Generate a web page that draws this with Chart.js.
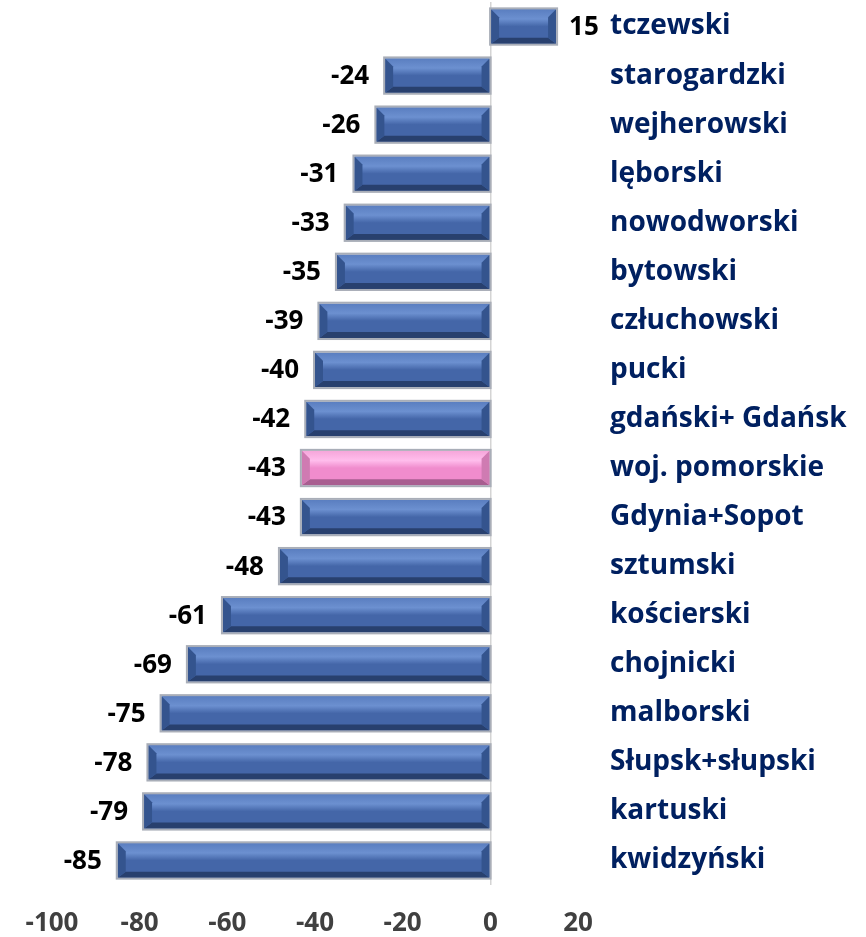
<!DOCTYPE html>
<html>
<head>
<meta charset="utf-8">
<script src="https://cdn.jsdelivr.net/npm/chart.js@4"></script>
<style>
  html, body { margin: 0; padding: 0; background: #fff; }
  #wrap { width: 866px; height: 937px; }
</style>
</head>
<body>
<div id="wrap"><canvas id="bars"></canvas></div>
<script>
var regions = [
    'tczewski',
    'starogardzki',
    'wejherowski',
    'lęborski',
    'nowodworski',
    'bytowski',
    'człuchowski',
    'pucki',
    'gdański+ Gdańsk',
    'woj. pomorskie',
    'Gdynia+Sopot',
    'sztumski',
    'kościerski',
    'chojnicki',
    'malborski',
    'Słupsk+słupski',
    'kartuski',
    'kwidzyński',
];
var values = [15, -24, -26, -31, -33, -35, -39, -40, -42, -43, -43, -48, -61, -69, -75, -78, -79, -85];
var highlighted = 'woj. pomorskie';
var xTicks = [-100, -80, -60, -40, -20, 0, 20];

var FONT = '"Open Sans", Lato, sans-serif';

// bevelled "3D" look drawn on top of each bar
var bevel = {
    id: 'bevel',
    afterDatasetsDraw: function (chart) {
        var ctx = chart.ctx;
        var meta = chart.getDatasetMeta(0);
        meta.data.forEach(function (el, i) {
            var p = el.getProps(['x', 'y', 'base', 'height'], true);
            var l = Math.min(p.x, p.base), r = Math.max(p.x, p.base);
            var t = p.y - p.height / 2, b = p.y + p.height / 2;
            var pink = regions[i] === highlighted;
            var c = pink
                ? { face: '#f08ccd', hi: '#ffbdec', top: '#f5a6da', bot: '#a85e90', side: '#cf7bb2' }
                : { face: '#4466a8', hi: '#6c90d0', top: '#5a7ec0', bot: '#28406e', side: '#34548e' };
            var d = 8;
            ctx.save();
            var g = ctx.createLinearGradient(0, t, 0, b);
            g.addColorStop(0, c.top);
            g.addColorStop(0.28, c.hi);
            g.addColorStop(0.5, c.face);
            g.addColorStop(1, c.face);
            ctx.fillStyle = g;
            ctx.fillRect(l, t, r - l, b - t);
            // bottom bevel
            ctx.fillStyle = c.bot;
            ctx.beginPath();
            ctx.moveTo(l, b); ctx.lineTo(r, b); ctx.lineTo(r - d, b - 6); ctx.lineTo(l + d, b - 6);
            ctx.closePath(); ctx.fill();
            // end bevels
            ctx.fillStyle = c.side;
            ctx.beginPath();
            ctx.moveTo(l, t); ctx.lineTo(l + d, t + d); ctx.lineTo(l + d, b - 6); ctx.lineTo(l, b);
            ctx.closePath(); ctx.fill();
            ctx.beginPath();
            ctx.moveTo(r, t); ctx.lineTo(r - d, t + d); ctx.lineTo(r - d, b - 6); ctx.lineTo(r, b);
            ctx.closePath(); ctx.fill();
            ctx.strokeStyle = '#a9aeb8';
            ctx.lineWidth = 2;
            ctx.strokeRect(l - 1, t - 1, r - l + 2, b - t + 2);
            ctx.restore();
        });
    }
};

// value labels beside bar ends
var valueLabels = {
    id: 'valueLabels',
    afterDatasetsDraw: function (chart) {
        var ctx = chart.ctx;
        var meta = chart.getDatasetMeta(0);
        ctx.save();
        ctx.font = 'bold 26px ' + FONT;
        ctx.fillStyle = '#000';
        ctx.textBaseline = 'middle';
        meta.data.forEach(function (el, i) {
            var v = values[i];
            if (v < 0) {
                ctx.textAlign = 'right';
                ctx.fillText(String(v), el.x - 16, el.y + 1);
            } else {
                ctx.textAlign = 'left';
                ctx.fillText(String(v), el.x + 13, el.y + 1);
            }
        });
        ctx.restore();
    }
};

new Chart(document.getElementById('bars'), {
    type: 'bar',
    data: {
        labels: regions,
        datasets: [{
            data: values,
            backgroundColor: regions.map(function (r) { return r === highlighted ? '#f08ccd' : '#4466a8'; }),
            borderWidth: 0,
            barPercentage: 0.7,
            categoryPercentage: 1,
        }]
    },
    options: {
        indexAxis: 'y',
        responsive: true,
        maintainAspectRatio: false,
        animation: false,
        layout: { padding: { left: 52, top: 2, right: 0, bottom: 0 } },
        plugins: {
            legend: { display: false },
            tooltip: { enabled: false },
        },
        scales: {
            x: {
                min: -100,
                max: 20,
                afterBuildTicks: function (s) { s.ticks = xTicks.map(function (v) { return { value: v }; }); },
                afterFit: function (s) { s.height = 52; s.paddingLeft = 0; s.paddingRight = 0; },
                border: { display: false },
                grid: {
                    drawTicks: false,
                    lineWidth: 1.5,
                    color: function (c) { return c.tick && c.tick.value === 0 ? '#d4d4d4' : 'rgba(0,0,0,0)'; },
                },
                ticks: {
                    padding: 23,
                    color: '#404040',
                    font: { family: FONT, size: 26, weight: 'bold' },
                },
            },
            y: {
                position: 'right',
                afterFit: function (s) { s.width = 288; s.paddingTop = 0; s.paddingBottom = 0; },
                border: { display: false },
                grid: { display: false, drawTicks: false },
                ticks: {
                    padding: 32,
                    color: '#002060',
                    font: { family: FONT, size: 28, weight: 'bold' },
                },
            },
        },
    },
    plugins: [bevel, valueLabels],
});
</script>
</body>
</html>
